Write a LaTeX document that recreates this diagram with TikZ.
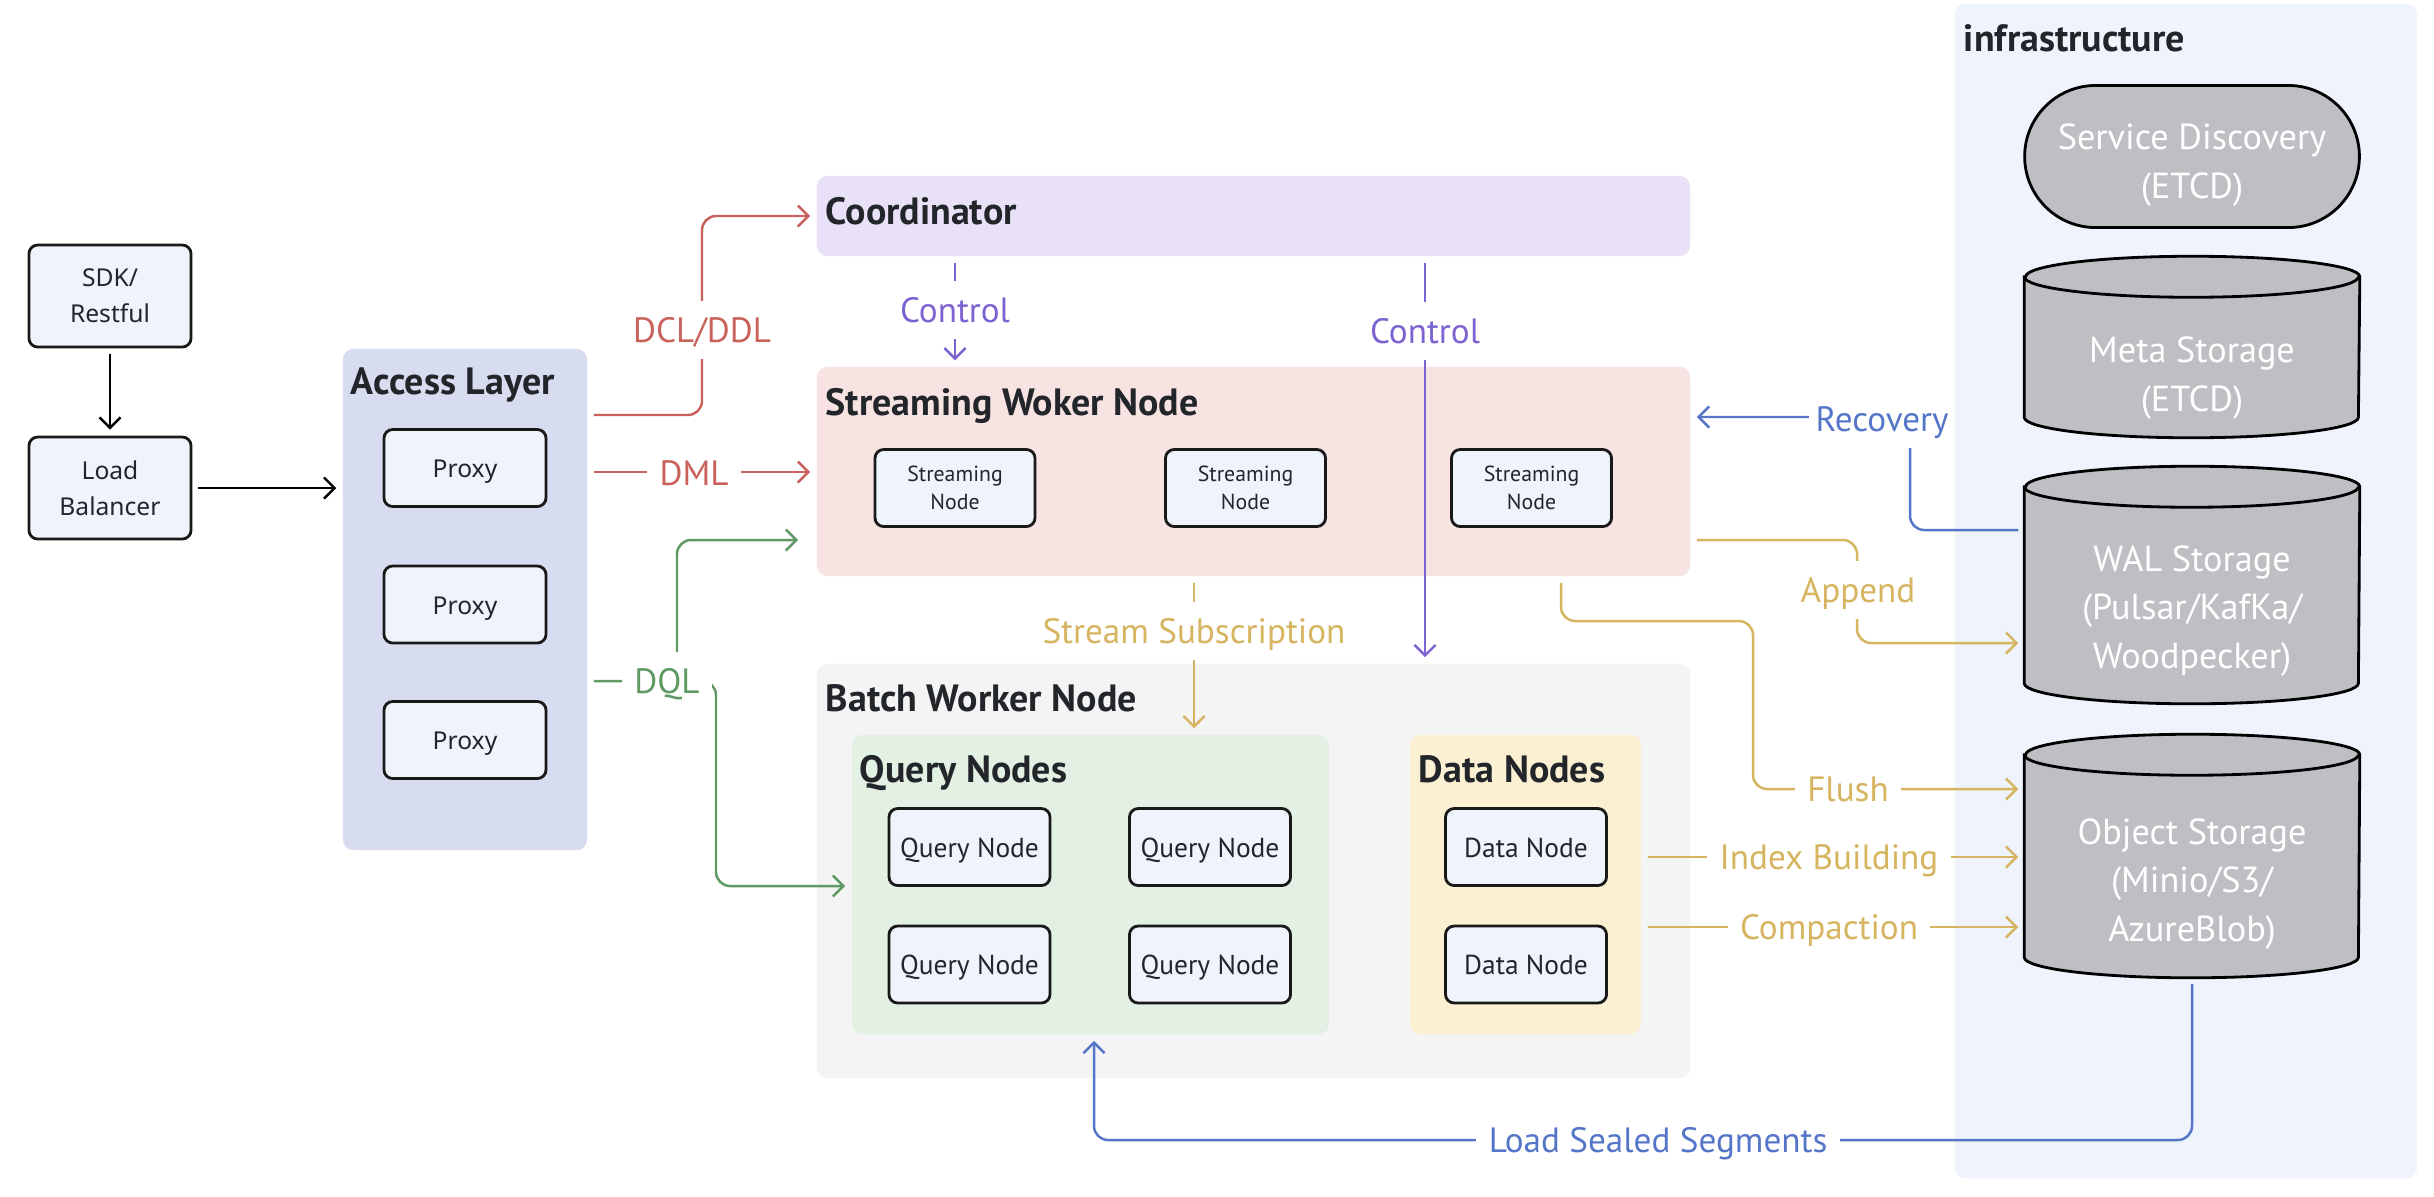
\documentclass[tikz,border=0pt]{standalone}
\usepackage{fontspec}
\setmainfont{PT Sans}
\newfontfamily\boxfont{Noto Sans}
\usetikzlibrary{calc,positioning,arrows.meta,shapes.geometric,shapes.misc}

\definecolor{boxfill}{HTML}{EFF3FB}
\definecolor{accessfill}{HTML}{D8DCF0}
\definecolor{coordfill}{HTML}{E8E1F8}
\definecolor{streamfill}{HTML}{F8E3E3}
\definecolor{batchfill}{HTML}{F4F4F4}
\definecolor{queryfill}{HTML}{E2F1E3}
\definecolor{datafill}{HTML}{FCF0D3}
\definecolor{infrafill}{HTML}{EFF3FB}
\definecolor{storefill}{HTML}{BDBFC3}
\definecolor{titlegray}{HTML}{22252A}
\definecolor{dclred}{HTML}{C8625B}
\definecolor{dqlgreen}{HTML}{5F9A64}
\definecolor{ctrlpurple}{HTML}{7D63D1}
\definecolor{flowgold}{HTML}{D6B460}
\definecolor{loadblue}{HTML}{5576C8}

\begin{document}
\begin{tikzpicture}[x=0.01cm,y=-0.01cm,font=\fontsize{10}{13}\selectfont]

\tikzset{panel/.style={rounded corners=3pt,inner sep=0pt},
paneltitle/.style={font=\fontsize{10.8}{12}\selectfont\bfseries,text=titlegray,anchor=west,inner sep=0pt,text height=10.8pt,text depth=3pt},
box/.style={draw=black!90,line width=0.8pt,rounded corners=2.5pt,fill=boxfill,inner sep=0pt,align=center,text=titlegray},
clientbox/.style={box,font=\boxfont\fontsize{7}{10.2}\selectfont,minimum width=1.62cm,minimum height=1.02cm},
proxybox/.style={box,font=\boxfont\fontsize{7}{10}\selectfont,minimum width=1.62cm,minimum height=0.77cm,text height=7.5pt,text depth=2pt},
snbox/.style={box,font=\fontsize{6.2}{7.9}\selectfont,minimum width=1.6cm,minimum height=0.77cm},
workerbox/.style={box,font=\fontsize{7.8}{10}\selectfont,minimum width=1.61cm,minimum height=0.77cm,text height=7.9pt,text depth=2.2pt},
storeline/.style={draw=black,line width=0.8pt,fill=storefill},
storetext/.style={text=white,align=center,font=\fontsize{10.3}{13.7}\selectfont},
conn/.style={line width=0.7pt,rounded corners=4pt,shorten <=1.7pt,shorten >=1.7pt,-{Straight Barb[length=3pt,width=6pt]}},
lbl/.style={fill=white,inner xsep=3.5pt,inner ysep=1.9pt,text height=10pt,text depth=2.8pt}}

\fill[white] (0,0) rectangle (2434,1196);
\useasboundingbox (0,0) rectangle (2434,1196);

% Clients
\node[clientbox] (sdk) at (110,296) {SDK/\\Restful};
\node[clientbox] (lb) at (110,488) {Load\\Balancer};

% Access layer
\node[panel,fill=accessfill,minimum width=2.44cm,minimum height=5.01cm] (access) at (465,599.5) {};
\node[paneltitle] (accesstitle) at ($(access.north west)+(8,33)$) {Access Layer};
\foreach \y/\n in {468/1,604.5/2,740/3} \node[proxybox] (proxy\n) at (465,\y) {Proxy};

% Coordinator and streaming worker node
\node[panel,fill=coordfill,minimum width=8.73cm,minimum height=0.8cm] (coord) at (1253.5,216) {};
\node[paneltitle] (coordtitle) at ($(coord.north west)+(9,35)$) {Coordinator};
\node[panel,fill=streamfill,minimum width=8.73cm,minimum height=2.09cm] (stream) at (1253.5,471.5) {};
\node[paneltitle] (streamtitle) at ($(stream.north west)+(9,36)$) {Streaming Woker Node};
\foreach \x/\n in {955/1,1245.5/2,1531.5/3} \node[snbox] (sn\n) at (\x,488) {Streaming\\Node};

% Batch worker node
\node[panel,fill=batchfill,minimum width=8.73cm,minimum height=4.14cm] (batch) at (1253.5,871) {};
\node[paneltitle] (batchtitle) at ($(batch.north west)+(9,35)$) {Batch Worker Node};
\node[panel,fill=queryfill,minimum width=4.77cm,minimum height=2.99cm] (query) at (1090.5,884.5) {};
\node[paneltitle] (querytitle) at ($(query.north west)+(8,35)$) {Query Nodes};
\node[panel,fill=datafill,minimum width=2.31cm,minimum height=2.99cm] (data) at (1525.5,884.5) {};
\node[paneltitle] (datatitle) at ($(data.north west)+(9,35)$) {Data Nodes};
\foreach \x/\c in {969.5/a,1210/b} \foreach \y/\r in {847/1,964.5/2} \node[workerbox] (qn\c\r) at (\x,\y) {Query Node};
\foreach \y/\r in {847/1,964.5/2} \node[workerbox] (dn\r) at (1526,\y) {Data Node};

% Infrastructure
\node[panel,fill=infrafill,minimum width=4.62cm,minimum height=11.74cm] (infra) at (2186,591) {};
\node[paneltitle] (infratitle) at ($(infra.north west)+(9,35)$) {infrastructure};
\node[rounded rectangle,storeline,minimum width=3.58cm,minimum height=1.42cm] (etcd) at (2192,156.5) {};
\node[minimum width=3.34cm,minimum height=1.80cm,inner sep=0pt] (meta) at (2192,347) {};
\node[minimum width=3.34cm,minimum height=2.36cm,inner sep=0pt] (wal) at (2192,585) {};
\node[minimum width=3.34cm,minimum height=2.42cm,inner sep=0pt] (obj) at (2192,856) {};
\foreach \s in {meta,wal,obj} {
  \path[storeline] ($(\s.north west)+(0,20.5)$) -- ($(\s.south west)+(0,-20.5)$) arc[start angle=180,end angle=360,x radius=1.67cm,y radius=0.205cm] -- ($(\s.north east)+(0,20.5)$) arc[start angle=0,end angle=180,x radius=1.67cm,y radius=0.205cm] -- cycle;
  \draw[line width=0.8pt] ($(\s.north west)+(0,20.5)$) arc[start angle=180,end angle=360,x radius=1.67cm,y radius=0.205cm];
}
\node[storetext] (etcdtext) at (2192,165) {Service Discovery\\(ETCD)};
\node[storetext] (metatext) at (2192,378) {Meta Storage\\(ETCD)};
\node[storetext] (waltext) at (2192,611) {WAL Storage\\(Pulsar/KafKa/\\Woodpecker)};
\node[storetext] (objtext) at (2192,884) {Object Storage\\(Minio/S3/\\AzureBlob)};

% Connectors
\draw[conn] (sdk) -- (lb);
\draw[conn] (lb) -- (access.west |- lb);
\draw[conn,dclred] (access.east |- 0,415) -| (coord.west -| 702,0) -- (coord.west);
\draw[conn,dclred] (access.east |- 0,472) -- (stream.west |- 0,472);
\draw[conn,dqlgreen] (access.east |- 0,681) -- (716,681) |- (query.west |- 0,886);
\draw[conn,dqlgreen] (677,681) |- ($(stream.west |- 0,540)+(-12,0)$);
\draw[conn,ctrlpurple] (coord.south -| 955,0) -- (stream.north -| 955,0);
\draw[conn,ctrlpurple] (coord.south -| 1425,0) -- (batch.north -| 1425,0);
\draw[conn,flowgold] (stream.south -| 1194,0) -- (query.north -| 1194,0);
\draw[conn,loadblue] (wal.west |- 0,530) -| (1910,417) -- (stream.east |- 0,417);
\draw[conn,flowgold] (stream.east |- 0,540) -| (1857,643) -- (wal.west |- 0,643);
\draw[conn,flowgold] (stream.south -| 1561,0) |- (1753,621) |- (obj.west |- 0,789);
\draw[conn,flowgold] (data.east |- 0,857) -- (obj.west |- 0,857);
\draw[conn,flowgold] (data.east |- 0,927) -- (obj.west |- 0,927);
\draw[conn,loadblue] (obj.south) |- (1094,1140) -- (query.south -| 1094,0);

% Labels
\node[lbl,text=dclred] (dcllbl) at (702,330) {DCL/DDL};
\node[lbl,text=dclred] (dmllbl) at (694,473) {DML};
\node[lbl,text=dqlgreen] (dqllbl) at (667,681) {DQL};
\node[lbl,text=ctrlpurple] (ctrlalbl) at (955,310) {Control};
\node[lbl,text=ctrlpurple] (ctrlblbl) at (1425,331) {Control};
\node[lbl,text=flowgold] (sublbl) at (1194,631) {Stream Subscription};
\node[lbl,text=loadblue,inner xsep=1.8pt] (reclbl) at (1882,419) {Recovery};
\node[lbl,text=flowgold] (applbl) at (1858,590) {Append};
\node[lbl,text=flowgold] (flushlbl) at (1848,789) {Flush};
\node[lbl,text=flowgold] (idxlbl) at (1829,857) {Index Building};
\node[lbl,text=flowgold] (cmplbl) at (1829,927) {Compaction};
\node[lbl,text=loadblue] (loadlbl) at (1658,1140) {Load Sealed Segments};

\end{tikzpicture}
\end{document}
